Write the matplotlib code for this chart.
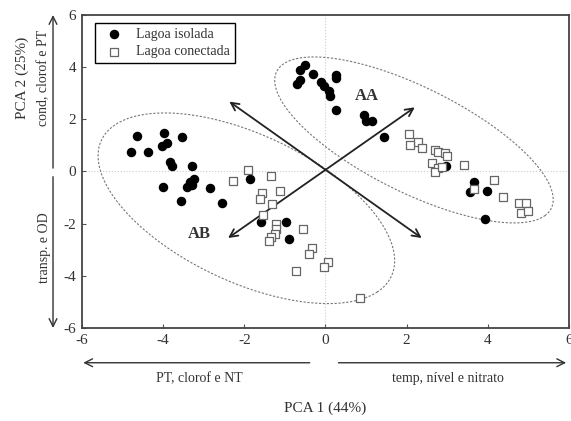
import matplotlib
matplotlib.use("Agg")
import matplotlib.pyplot as plt
import numpy as np

plt.rcParams['font.family'] = ['Liberation Serif', 'DejaVu Serif']
plt.rcParams['axes.unicode_minus'] = False

# Lagoa isolada (filled circles)
iso_x = [-4.64, -3.98, -3.53, -4.80, -4.37, -4.04, -3.91, -3.82, -3.77, -3.28, -4.01,
         -3.34, -3.24, -3.42, -3.28, -2.85, -3.57, -2.54, -1.85, -1.60, -0.97, -0.90,
         -0.51, -0.63, -0.30, -0.69, -0.63, 0.27, 0.27, -0.12, -0.03, 0.08, 0.11, 0.25,
         0.95, 1.01, 1.15, 1.45,
         2.98, 3.66, 3.56, 3.99, 3.94]
iso_y = [1.36, 1.49, 1.31, 0.73, 0.73, 0.98, 1.08, 0.38, 0.21, 0.21, -0.61,
         -0.39, -0.30, -0.61, -0.52, -0.64, -1.12, -1.22, -0.30, -1.92, -1.92, -2.60,
         4.09, 3.91, 3.74, 3.36, 3.49, 3.70, 3.58, 3.42, 3.27, 3.10, 2.91, 2.34,
         2.17, 1.92, 1.95, 1.32,
         0.20, -0.41, -0.79, -0.75, -1.81]

# Lagoa conectada (open squares)
con_x = [-1.92, -2.28, -1.35, -1.56, -1.62, -1.13, -1.31, -1.55, -1.23, -1.21, -1.25,
         -1.35, -1.38, -0.55, -0.33, -0.41, -0.73, 0.07, -0.03, 0.86,
         2.06, 2.28, 2.08, 2.38, 2.71, 2.76, 2.94, 3.00, 2.63, 2.76, 2.70, 2.88, 3.42,
         3.66, 4.16, 4.38, 4.77, 4.94, 4.82, 4.98]
con_y = [0.04, -0.37, -0.18, -0.83, -1.05, -0.73, -1.24, -1.65, -2.01, -2.20, -2.40,
         -2.52, -2.68, -2.20, -2.94, -3.18, -3.83, -3.47, -3.67, -4.84,
         1.42, 1.12, 1.02, 0.89, 0.83, 0.74, 0.70, 0.61, 0.32, 0.13, -0.03, 0.17, 0.23,
         -0.66, -0.32, -0.98, -1.20, -1.20, -1.58, -1.53]

# group ellipses: center x, center y, semi-major, semi-minor, angle (deg, data space)
ell_ab = [-1.95, -1.41, 4.55, 2.45, -45]
ell_aa = [2.18, 1.21, 4.34, 1.75, -42]

# loading arrows (double headed)
arr1 = [(-2.37, 2.68), (2.37, -2.55)]
arr2 = [(-2.40, -2.55), (2.20, 2.46)]

ticks = [-6, -4, -2, 0, 2, 4, 6]
tc = '#333333'

fig = plt.figure(figsize=(5.71, 4.21), dpi=100)
ax = fig.add_axes([0.1436, 0.2209, 0.8529, 0.7435])

ax.axhline(0, color='#cccccc', lw=0.8, ls=':', zorder=0)
ax.axvline(0, color='#cccccc', lw=0.8, ls=':', zorder=0)

t = np.linspace(0, 2 * np.pi, 300)
for cx, cy, a, b, ang in [ell_ab, ell_aa]:
    th = np.radians(ang)
    ex = cx + a * np.cos(t) * np.cos(th) - b * np.sin(t) * np.sin(th)
    ey = cy + a * np.cos(t) * np.sin(th) + b * np.sin(t) * np.cos(th)
    ax.plot(ex, ey, color='#777777', lw=0.8, ls=(0, (2, 1.5)), zorder=1)

for p, q in [arr1, arr2]:
    ax.annotate('', xy=q, xytext=p,
                arrowprops=dict(arrowstyle='<->', lw=1.3, color='#222222',
                                mutation_scale=14, shrinkA=0, shrinkB=0))

ax.scatter(iso_x, iso_y, s=34, c='black', marker='o', zorder=3, label='Lagoa isolada')
ax.scatter(con_x, con_y, s=38, facecolors='white', edgecolors='#666666', linewidths=0.9,
           marker='s', zorder=4, label='Lagoa conectada')

ax.text(-3.1, -2.39, 'AB', fontsize=12, fontweight='bold', color=tc, ha='center', va='center')
ax.text(1.01, 2.91, 'AA', fontsize=12, fontweight='bold', color=tc, ha='center', va='center')

ax.set_xlim(-6, 6)
ax.set_ylim(-6, 6)
ax.set_xticks(ticks)
ax.set_yticks(ticks)
ax.tick_params(direction='in', length=3, labelsize=11, labelcolor=tc, color='#555555', pad=4)
for side in ax.spines.values():
    side.set_color('#444444')
    side.set_linewidth(1.3)

leg = ax.legend(loc='upper left', bbox_to_anchor=(0.027, 0.974), borderaxespad=0,
                fontsize=10, fancybox=False, edgecolor='black', framealpha=1,
                handletextpad=0.6, borderpad=0.35, labelspacing=0.3)
leg.get_frame().set_linewidth(1.0)
for txt in leg.get_texts():
    txt.set_color(tc)

# direction arrows outside the axes
xt = ax.get_xaxis_transform()
yt = ax.get_yaxis_transform()
arrow_kw = dict(arrowstyle='->', lw=1.0, color='#333333', mutation_scale=14, shrinkA=0, shrinkB=0)
ax.annotate('', xy=(-5.97, -0.111), xytext=(-0.39, -0.111), xycoords=xt,
            arrowprops=arrow_kw, annotation_clip=False)
ax.annotate('', xy=(5.93, -0.111), xytext=(0.32, -0.111), xycoords=xt,
            arrowprops=arrow_kw, annotation_clip=False)
ax.text(-3.12, -0.162, 'PT, clorof e NT', transform=xt, fontsize=10, color=tc,
        ha='center', va='center')
ax.text(3.02, -0.162, 'temp, nível e nitrato', transform=xt, fontsize=10, color=tc,
        ha='center', va='center')
ax.text(0, -0.255, 'PCA 1 (44%)', transform=xt, fontsize=11, color=tc,
        ha='center', va='center')

ax.annotate('', xy=(-0.0595, 6.0), xytext=(-0.0595, 0.13), xycoords=yt,
            arrowprops=arrow_kw, annotation_clip=False)
ax.annotate('', xy=(-0.0595, -6.0), xytext=(-0.0595, -0.2), xycoords=yt,
            arrowprops=arrow_kw, annotation_clip=False)
ax.text(-0.078, 3.58, 'cond, clorof e PT', transform=yt, fontsize=10, color=tc,
        rotation=90, ha='center', va='center')
ax.text(-0.078, -2.93, 'transp. e OD', transform=yt, fontsize=10, color=tc,
        rotation=90, ha='center', va='center')
ax.text(-0.123, 3.6, 'PCA 2 (25%)', transform=yt, fontsize=11, color=tc,
        rotation=90, ha='center', va='center')

fig.savefig('out.png', dpi=100)
